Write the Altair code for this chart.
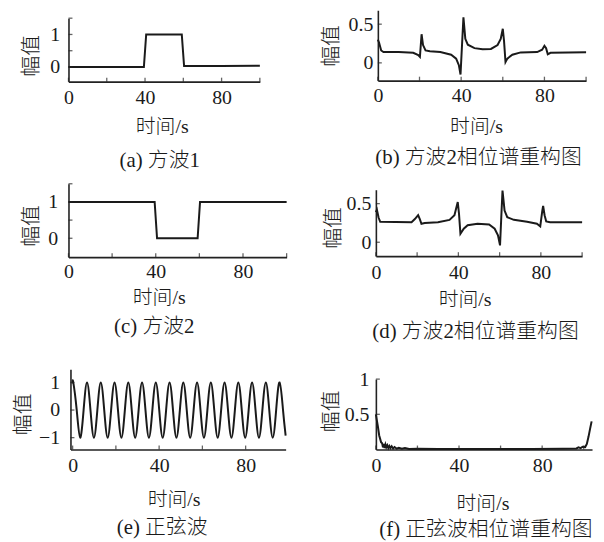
import altair as alt
import pandas as pd

W, H = 588, 526
SERIF = "Liberation Serif"
MIX = "Liberation Serif, Noto Sans CJK SC"
INK = "#1a1a1a"
AXC = "#222222"
TXT = "#1a1a1a"

# ---------------- data ----------------
a_t = [0, 39.4, 40.6, 59.2, 60.4, 80, 100]
a_v = [0, 0, 1, 1, 0.03, 0.03, 0.04]

b_t = [0, 0.6, 1.6, 2.7, 10, 17, 19.4, 20.2, 21.0, 21.7, 22.9, 25, 30, 35.2, 37.6,
       38.9, 39.7, 41.1, 42.0, 43.2, 46.4, 50.3, 54.3, 57.5, 59.0, 60.0, 60.6, 61.3,
       62.2, 64.6, 68.6, 76.5, 78.9, 80.0, 80.8, 81.6, 82.9, 100]
b_v = [0.30, 0.26, 0.16, 0.14, 0.14, 0.13, 0.10, 0.077, 0.37, 0.23, 0.16, 0.15, 0.14, 0.105, 0.055,
       -0.03, -0.15, 0.59, 0.31, 0.235, 0.19, 0.175, 0.18, 0.23, 0.31, 0.44, 0.28, 0.01,
       0.055, 0.105, 0.135, 0.14, 0.17, 0.22, 0.19, 0.11, 0.13, 0.137]

c_t = [0, 39.5, 40.6, 59.2, 60.3, 100]
c_v = [1, 1, 0, 0, 1, 1]

d_t = [0, 0.5, 1.3, 2.1, 17.3, 18.9, 20.5, 21.3, 22.1, 23.7, 30.1, 35.7, 38.1, 39.7, 40.3,
       41.0, 42.6, 44.5, 49.3, 54.9, 57.6, 59.2, 60.2, 60.8, 61.4, 62.4, 63.7, 66.9, 73.3,
       78.1, 79.7, 80.7, 81.1, 81.8, 82.6, 84.5, 100]
d_v = [0.39, 0.42, 0.32, 0.265, 0.26, 0.30, 0.35, 0.30, 0.24, 0.25, 0.26, 0.29, 0.35, 0.52, 0.37,
       0.11, 0.175, 0.22, 0.24, 0.23, 0.175, 0.09, -0.04, 0.32, 0.67, 0.41, 0.325, 0.29, 0.265,
       0.24, 0.205, 0.41, 0.47, 0.35, 0.27, 0.26, 0.26]

e_t = [0, 0.3, 1.89, 3.48, 5.07, 6.66, 8.25, 9.84, 11.43, 13.02, 14.61, 16.20, 17.79, 19.38,
       20.97, 22.56, 24.15, 25.74, 27.33, 28.92, 30.51, 32.10, 33.69, 35.28, 36.87, 38.46,
       40.05, 41.64, 43.23, 44.82, 46.41, 48.00, 49.59, 51.18, 52.77, 54.36, 55.95, 57.54,
       59.13, 60.72, 62.31, 63.90, 65.49, 67.08, 68.67, 70.26, 71.85, 73.44, 75.03, 76.62,
       78.21, 79.80, 81.39, 82.98, 84.57, 86.16, 87.75, 89.34, 90.93, 92.52, 94.11, 95.70,
       97.29, 98.5]
e_v = [0.96, 1, 0, -1, 0, 1, 0, -1, 0, 1, 0, -1, 0, 1,
       0, -1, 0, 1, 0, -1, 0, 1, 0, -1, 0, 1,
       0, -1, 0, 1, 0, -1, 0, 1, 0, -1, 0, 1,
       0, -1, 0, 1, 0, -1, 0, 1, 0, -1, 0, 1,
       0, -1, 0, 1, 0, -1, 0, 1, 0, -1, 0, 1,
       0, -0.93]

f_t = [0, 1.0, 1.6, 2.5, 3.0, 3.4, 3.8, 4.2, 4.6, 5.0, 5.5, 6.0, 6.5, 7.0, 7.6, 8.3, 9.0, 10,
       11, 12.5, 14, 16, 20, 30, 45, 60, 75, 90, 96.5, 97.5, 98.5, 99.5, 100.7, 101.5, 102.3,
       103.1, 103.8]
f_v = [0.5, 0.32, 0.2, 0.105, 0.09, 0.03, 0.08, 0.02, 0.07, 0.03, 0.06, 0.02, 0.05, 0.02, 0.045,
       0.015, 0.035, 0.012, 0.025, 0.01, 0.02, 0.008, 0.01, 0.006, 0.008, 0.006, 0.008, 0.01,
       0.015, 0.03, 0.02, 0.04, 0.035, 0.08, 0.18, 0.30, 0.40]

x_title = "时间/s"
y_title = "幅值"
captions = ["(a) 方波1", "(b) 方波2相位谱重构图", "(c) 方波2", "(d) 方波2相位谱重构图",
            "(e) 正弦波", "(f) 正弦波相位谱重构图"]

x_labels = [0, 40, 80]
a_yticks, a_ylabels = [0, 0.5, 1, 1.5], [0, 1]
b_yticks, b_ylabels = [0, 0.5], [0, 0.5]
c_yticks, c_ylabels = [0, 0.5, 1, 1.5], [0, 1]
d_yticks, d_ylabels = [0, 0.5], [0, 0.5]
e_yticks, e_ylabels = [-1, 0, 1], [-1, 0, 1]
f_yticks, f_ylabels = [0.5, 1], [0.5, 1]
xticks_100 = [0, 20, 40, 60, 80, 100]
xticks_80 = [0, 20, 40, 60, 80]


def panel(t, v, cap, xdom, ydom, xr, yr, xticks, yticks, ylabels,
          ylp, xlp, ytx, yty, xtx, xty, ctx, cty, interp="linear"):
    xs = alt.Scale(domain=xdom, range=xr, nice=False, zero=False)
    ys = alt.Scale(domain=ydom, range=yr, nice=False, zero=False)
    df = pd.DataFrame({"t": t, "v": v})
    xaxis = alt.Axis(orient="bottom", offset=yr[0] - H, values=x_labels, format="~r",
                     labelFont=SERIF, labelFontSize=20, labelColor=TXT, labelPadding=xlp,
                     labelFlush=False, labelOverlap=False, ticks=False, tickSize=0,
                     domainColor=AXC, domainWidth=1.6, grid=False,
                     title=x_title, titleFont=MIX, titleFontSize=20,
                     titleFontWeight=300, titleColor=TXT, titleX=xtx, titleY=xty,
                     titleBaseline="top", titleAlign="center")
    yaxis = alt.Axis(orient="left", offset=-xr[0], values=ylabels, format="~r",
                     labelFont=SERIF, labelFontSize=20, labelColor=TXT, labelPadding=ylp,
                     labelFlush=False, labelOverlap=False, ticks=False, tickSize=0,
                     domainColor=AXC, domainWidth=1.6, grid=False,
                     title=y_title, titleFont=MIX, titleFontSize=21, titleFontWeight=300,
                     titleColor=TXT, titleX=ytx, titleY=yty, titleAngle=270,
                     titleBaseline="bottom", titleAlign="center")
    capaxis = alt.Axis(orient="bottom", offset=yr[0] - H, domain=False, labels=False,
                       ticks=False, grid=False, title=cap, titleFont=MIX, titleFontSize=21,
                       titleFontWeight=300, titleColor=TXT, titleX=ctx, titleY=cty,
                       titleBaseline="top", titleAlign="center")
    line = alt.Chart(df).mark_line(color=INK, strokeWidth=2, interpolate=interp).encode(
        x=alt.X("t:Q", scale=xs, axis=xaxis),
        y=alt.Y("v:Q", scale=ys, axis=yaxis),
    )
    xt = alt.Chart(pd.DataFrame({"t": xticks, "v": [ydom[0]] * len(xticks)})).mark_tick(
        orient="vertical", size=4, thickness=1.3, yOffset=-2, color=AXC).encode(
        x=alt.X("t:Q", scale=xs, axis=capaxis), y=alt.Y("v:Q", scale=ys, axis=None))
    yt = alt.Chart(pd.DataFrame({"t": [xdom[0]] * len(yticks), "v": yticks})).mark_tick(
        orient="horizontal", size=4, thickness=1.3, xOffset=2, color=AXC).encode(
        x=alt.X("t:Q", scale=xs, axis=None), y=alt.Y("v:Q", scale=ys, axis=None))
    return [line, xt, yt]


layers = []
layers += panel(a_t, a_v, captions[0], [0, 100], [-0.45, 1.5], [61, 254], [72, 8],
                xticks_100, a_yticks, a_ylabels, 9, 6, -27, 45.5, 155, 34.8, 152.5, 68.9)
layers += panel(b_t, b_v, captions[1], [0, 100], [-0.23, 0.68], [373, 583], [71, 0],
                xticks_100, b_yticks, b_ylabels, 5, 5, -37, 35.5, 472, 35.8, 474, 66.4)
layers += panel(c_t, c_v, captions[2], [0, 100], [-0.52, 1.5], [61, 281], [249, 175],
                xticks_100, c_yticks, c_ylabels, 11, 4.5, -27, 217, 152, 30.8, 147, 59.4)
layers += panel(d_t, d_v, captions[3], [0, 100], [-0.18, 0.68], [371, 579], [248, 181],
                xticks_100, d_yticks, d_ylabels, 5, 6.4, -33, 219, 460.5, 33.3, 471, 65.4)
layers += panel(e_t, e_v, captions[4], [-1, 98.5], [-1.43, 1.48], [63, 280], [443, 362],
                xticks_80, e_yticks, e_ylabels, 11, 6.4, -37, 407, 167, 40.8, 155, 67.4,
                "natural")
layers += panel(f_t, f_v, captions[5], [0, 104], [0, 1.0], [371, 589], [443, 372],
                xticks_100, f_yticks, f_ylabels, 7, 6.4, -35, 404, 478.5, 44.0, 481.5, 69.8)

chart = alt.layer(*layers).resolve_scale(
    x="independent", y="independent").resolve_axis(
    x="independent", y="independent").properties(
    width=W, height=H, padding={"left": 0, "top": 0, "right": 0, "bottom": 0},
    background="white").configure_view(stroke=None)

chart.save("out.html", embed_options={"renderer": "svg", "actions": False})
